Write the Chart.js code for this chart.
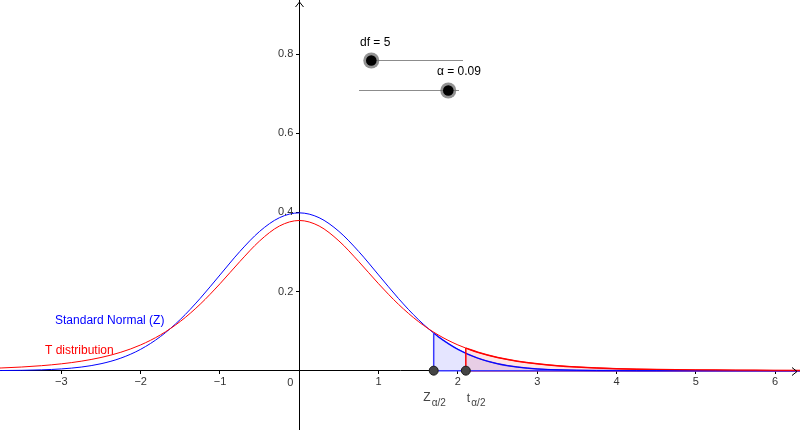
<!DOCTYPE html>
<html><head><meta charset="utf-8">
<script src="https://cdn.jsdelivr.net/npm/chart.js@4.4.1/dist/chart.umd.min.js"></script>
<style>html,body{margin:0;padding:0;background:#fff;overflow:hidden}#wrap{width:800px;height:430px}</style>
</head><body><div id="wrap"><canvas id="c" width="800" height="430"></canvas></div>
<script>
// ---- data ----
const xValues = [-4,-3.75,-3.5,-3.25,-3,-2.75,-2.5,-2.25,-2,-1.75,-1.5,-1.25,-1,-0.75,-0.5,-0.25,0,
  0.25,0.5,0.75,1,1.25,1.5,1.75,2,2.25,2.5,2.75,3,3.25,3.5,3.75,4,4.25,4.5,4.75,5,5.25,5.5,5.75,6,6.25,6.5];
const normalPdf = [0.00013,0.00035,0.00087,0.00203,0.00443,0.00909,0.01753,0.03174,0.05399,0.08628,0.12952,0.18265,0.24197,0.30114,0.35207,0.38667,0.39894,
  0.38667,0.35207,0.30114,0.24197,0.18265,0.12952,0.08628,0.05399,0.03174,0.01753,0.00909,0.00443,0.00203,0.00087,0.00035,0.00013,0.00005,0.00002,0.00001,0,0,0,0,0,0,0];
const tPdf = [0.00512,0.00685,0.00924,0.01259,0.01729,0.02393,0.03333,0.04657,0.06509,0.09054,0.12452,0.16790,0.21968,0.27570,0.32793,0.36572,0.37961,
  0.36572,0.32793,0.27570,0.21968,0.16790,0.12452,0.09054,0.06509,0.04657,0.03333,0.02393,0.01729,0.01259,0.00924,0.00685,0.00512,0.00387,0.00295,0.00227,0.00176,0.00137,0.00108,0.00086,0.00069,0.00055,0.00045];
const xTicks = [-3,-2,-1,0,1,2,3,4,5,6];
const yTicks = [0.2,0.4,0.6,0.8];
const zCrit = 1.695, zCritHeight = 0.0949;
const tCrit = 2.10, tCritHeight = 0.0570;
const dfValue = 5, alphaValue = 0.09;
const xRange = [-3.774, 6.314];
const yRange = [-0.150, 0.937];
const seriesNames = ['Standard Normal (Z)', 'T distribution'];

// ---- build ----
const pts = (xs, ys) => xs.map((x, i) => ({x: x, y: ys[i]}));
const normalData = pts(xValues, normalPdf);
const tData = pts(xValues, tPdf);
const normalTail = [{x: zCrit, y: zCritHeight}].concat(normalData.filter(p => p.x > zCrit));
const tTail = [{x: tCrit, y: tCritHeight}].concat(tData.filter(p => p.x > tCrit));
const FONT = "'Liberation Sans', Arial, sans-serif";
const BLUE = '#0000ff', RED = '#ff0000', TAILBLUE = '#3a3aff';

const line = (data, color, width, extra) => Object.assign({
  data: data, borderColor: color, borderWidth: width, pointRadius: 0, pointHoverRadius: 0,
  fill: false, showLine: true, cubicInterpolationMode: 'monotone'
}, extra || {});

const noPad = s => { s.paddingTop = 0; s.paddingBottom = 0; s.paddingLeft = 0; s.paddingRight = 0; };

const overlay = {
  id: 'overlay',
  afterDraw(chart) {
    const ctx = chart.ctx, xs = chart.scales.x, ys = chart.scales.y;
    const X = v => xs.getPixelForValue(v), Y = v => ys.getPixelForValue(v);
    ctx.save();
    // axis arrows
    ctx.strokeStyle = '#000'; ctx.lineWidth = 1;
    const x0 = Math.round(X(0)) + 0.5, y0 = Math.round(Y(0)) + 0.5;
    ctx.beginPath();
    ctx.moveTo(x0 - 4, 7); ctx.lineTo(x0, 2); ctx.lineTo(x0 + 4, 7);
    ctx.moveTo(chart.width - 8, y0 - 4); ctx.lineTo(chart.width - 3, y0); ctx.lineTo(chart.width - 8, y0 + 4);
    ctx.stroke();
    // y tick labels and origin label
    ctx.fillStyle = '#333'; ctx.font = '11px ' + FONT;
    ctx.textAlign = 'right'; ctx.textBaseline = 'middle';
    yTicks.forEach(v => ctx.fillText(v.toFixed(1), X(0) - 6, Y(v)));
    ctx.textBaseline = 'alphabetic';
    ctx.fillText('0', X(0) - 6, Y(0) + 15);
    // curve labels
    ctx.textAlign = 'left'; ctx.font = '12px ' + FONT;
    ctx.fillStyle = BLUE; ctx.fillText(seriesNames[0], X(-3.08), Y(0.1176));
    ctx.fillStyle = RED; ctx.fillText(seriesNames[1], X(-3.207), Y(0.0427));
    // critical value labels
    ctx.fillStyle = '#444';
    ctx.font = '12px ' + FONT; ctx.fillText('Z', X(zCrit) - 10.4, Y(0) + 30.5);
    ctx.font = '10px ' + FONT; ctx.fillText('\u03b1/2', X(zCrit) - 2, Y(0) + 35);
    ctx.font = '12px ' + FONT; ctx.fillText('t', X(tCrit) + 1, Y(0) + 31);
    ctx.font = '10px ' + FONT; ctx.fillText('\u03b1/2', X(tCrit) + 5.5, Y(0) + 35);
    // sliders
    const slider = (lx1, lx2, ly, kx, label, tx, ty) => {
      ctx.strokeStyle = '#8c8c8c'; ctx.lineWidth = 1;
      ctx.beginPath(); ctx.moveTo(lx1, ly + 0.5); ctx.lineTo(lx2, ly + 0.5); ctx.stroke();
      ctx.fillStyle = 'rgba(110,110,110,0.75)';
      ctx.beginPath(); ctx.arc(kx, ly + 0.5, 8, 0, Math.PI * 2); ctx.fill();
      ctx.fillStyle = '#000';
      ctx.beginPath(); ctx.arc(kx, ly + 0.5, 5.3, 0, Math.PI * 2); ctx.fill();
      ctx.font = '12px ' + FONT; ctx.fillStyle = '#000'; ctx.textAlign = 'left';
      ctx.fillText(label, tx, ty);
    };
    slider(371, 463, 60, 371.3, 'df = ' + dfValue, 360, 46);
    slider(359, 459, 90, 448.3, '\u03b1 = ' + alphaValue.toFixed(2), 437, 75);
    ctx.restore();
  }
};

new Chart(document.getElementById('c'), {
  type: 'line',
  data: {
    datasets: [
      {data: [{x: zCrit, y: 0}, {x: tCrit, y: 0}], showLine: false, pointRadius: 4.5, pointHoverRadius: 4.5,
        pointBackgroundColor: '#444', pointBorderColor: '#1a1a1a', pointBorderWidth: 1},
      line([{x: zCrit, y: 0}, {x: zCrit, y: zCritHeight}], TAILBLUE, 1.5),
      line([{x: tCrit, y: 0}, {x: tCrit, y: tCritHeight}], RED, 1.5),
      line(tData, RED, 1),
      line(normalData, BLUE, 1),
      line([{x: zCrit, y: 0}, {x: xRange[1] + 1, y: 0}], TAILBLUE, 1.5),
      line([{x: tCrit, y: 0}, {x: xRange[1] + 1, y: 0}], RED, 1.5),
      line(tTail, RED, 1.5, {fill: 'origin', backgroundColor: 'rgba(255,0,0,0.1)'}),
      line(normalTail, TAILBLUE, 1.5, {fill: 'origin', backgroundColor: 'rgba(0,0,255,0.1)'})
    ]
  },
  options: {
    responsive: false, animation: false, events: [],
    layout: {padding: 0, autoPadding: false},
    plugins: {legend: {display: false}, tooltip: {enabled: false}},
    scales: {
      x: {
        type: 'linear', min: xRange[0], max: xRange[1], position: {y: 0},
        afterBuildTicks: s => { s.ticks = xTicks.map(v => ({value: v})); },
        afterFit: noPad,
        grid: {drawOnChartArea: false, drawTicks: true, tickLength: 3, color: '#000'},
        border: {display: true, color: '#000', width: 1},
        ticks: {color: '#333', font: {family: FONT, size: 11}, padding: 2, maxRotation: 0, autoSkip: false,
          callback: v => (v === 0 ? '' : (v < 0 ? '\u2212' + Math.abs(v) : String(v)))}
      },
      y: {
        type: 'linear', min: yRange[0], max: yRange[1], position: {x: 0},
        afterBuildTicks: s => { s.ticks = yTicks.map(v => ({value: v})); },
        afterFit: noPad,
        grid: {drawOnChartArea: false, drawTicks: true, tickLength: 3, color: '#000'},
        border: {display: true, color: '#000', width: 1},
        ticks: {display: false}
      }
    }
  },
  plugins: [overlay]
});
</script>
</body></html>
